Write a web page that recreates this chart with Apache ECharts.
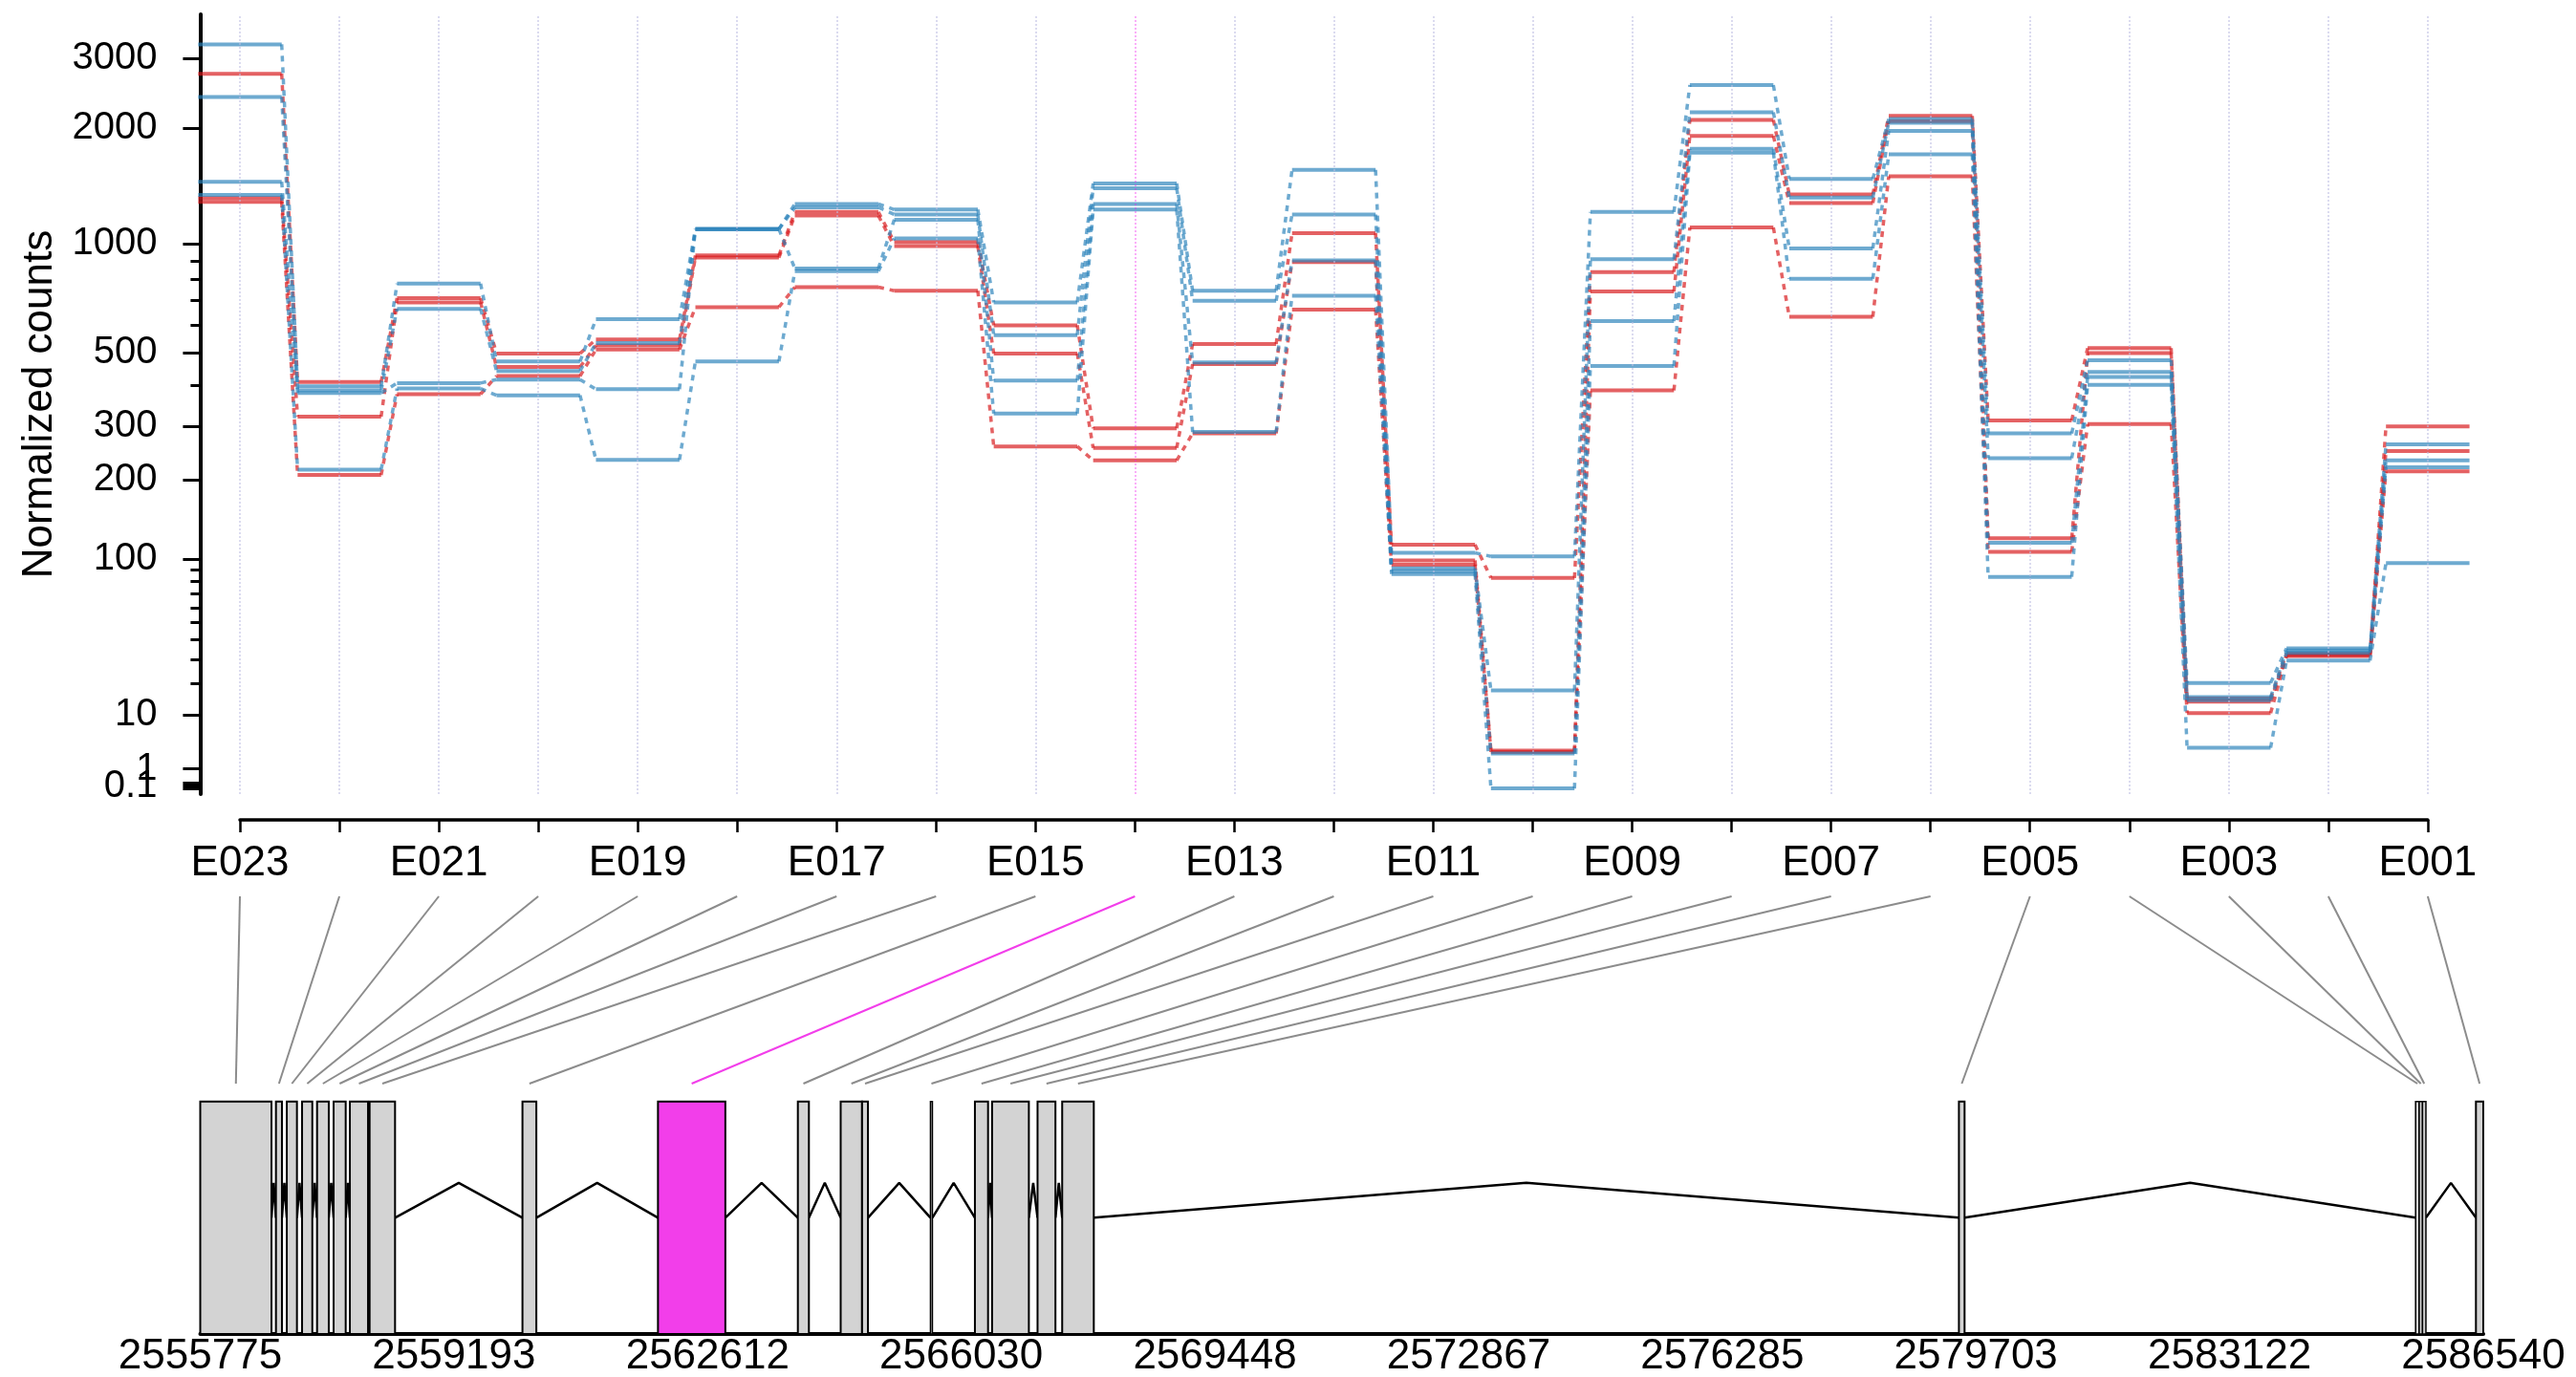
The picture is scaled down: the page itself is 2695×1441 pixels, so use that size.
<!DOCTYPE html>
<html>
<head>
<meta charset="utf-8">
<script src="https://cdn.jsdelivr.net/npm/echarts@6/dist/echarts.min.js"></script>
<style>
html,body{margin:0;padding:0;background:#ffffff;}
#chart{width:2695px;height:1441px;}
</style>
</head>
<body>
<div id="chart"></div>
<script>
// ---------------- DATA ----------------
const exonIds = ['E023','E022','E021','E020','E019','E018','E017','E016','E015','E014','E013','E012',
                 'E011','E010','E009','E008','E007','E006','E005','E004','E003','E002','E001'];
const highlightExon = 'E014';

// normalized counts per sample (condition 1 = red, condition 2 = blue), exons E023 .. E001
const red1 = [2750, 410, 712, 497, 545, 930, 1213, 1010, 598, 296, 529, 1067, 115, 83, 839, 2098, 1349, 2150, 313, 515, 14.7, 32.8, 300];
const red2 = [1320, 322, 693, 454, 524, 918, 1187, 985, 497, 256, 463, 893, 99, 3.0, 742, 1911, 1281, 2085, 122, 498, 13.8, 32, 250];
const red3 = [1290, 208, 377, 427, 510, 672, 763, 746, 259, 233, 285, 661, 95, 2.8, 387, 1104, 632, 1504, 107.5, 305, 10.5, 31.6, 214];
const blue1 = [3260, 398, 780, 471, 622, 1093, 1273, 1231, 693, 1441, 746, 1563, 106.5, 103, 1213, 2574, 1480, 2111, 285, 475, 20.1, 35.4, 263];
const blue2 = [2400, 387, 665, 442, 532, 1093, 1248, 1195, 561, 1399, 700, 1195, 91.5, 17.4, 908, 2196, 1323, 2065, 237, 439, 15.2, 34.2, 233];
const blue3 = [1455, 380, 407, 417, 390, 1093, 858, 1158, 414, 1273, 468, 902, 89, 2.6, 614, 1770, 971, 1967, 117, 424, 14.2, 33.1, 221];
const blue4 = [1345, 217, 392, 374, 234, 471, 843, 1033, 329, 1231, 288, 723, 86.5, 0.05, 457, 1730, 804, 1713, 84, 402, 3.4, 29.4, 96.5];

// genomic coordinates of exonic parts (E023 .. E001)
const exonStart = [2555775, 2556795, 2556941, 2557147, 2557349, 2557572, 2557791, 2558057, 2560117, 2561943, 2563828, 2564405,
                   2564693, 2565615, 2566214, 2566445, 2567058, 2567390, 2579474, 2585628, 2585676, 2585721, 2586441];
const exonEnd   = [2556735, 2556876, 2557078, 2557285, 2557507, 2557735, 2558036, 2558400, 2560304, 2562851, 2563977, 2564693,
                   2564773, 2565641, 2566391, 2566941, 2567299, 2567816, 2579550, 2585676, 2585721, 2585767, 2586540];

// axis ticks
const yLabelValues = [0.1, 1, 10, 100, 200, 300, 500, 1000, 2000, 3000];
const yMajorTickValues = [0.05, 0.1, 0.2, 1, 10, 100, 200, 300, 500, 1000, 2000, 3000];
const yMinorTickValues = [20, 30, 40, 50, 60, 70, 80, 90, 400, 600, 700, 800, 900];
const genomicTicks = [2555775, 2559193, 2562612, 2566030, 2569448, 2572867, 2576285, 2579703, 2583122, 2586540];
const genomicMin = 2555775, genomicMax = 2586540;

// ---------------- STYLE ----------------
const RED = 'rgba(215,25,28,0.686)';
const BLUE = 'rgba(43,131,186,0.686)';
const MAGENTA = '#F23EEA';
const FONT = 'Liberation Sans, Arial, Helvetica, sans-serif';

// variance-stabilising style transform used for the count axis
const T = q => 2 * Math.asinh(Math.sqrt(q / 200));
const HALF = 0.42;
const labelFor = v => String(yLabelValues.reduce((a, b) => Math.abs(T(b) - v) < Math.abs(T(a) - v) ? b : a));
// labels "0.1" and "1" sit almost on top of each other, so "1" goes on a second overlaid axis
const primaryLabels = yLabelValues.filter(v => v !== 1);
const secondaryLabels = yLabelValues.filter(v => v === 1);

const series = [];
function addSample(vals, color) {
  const solid = [], dashed = [];
  vals.forEach((v, k) => {
    solid.push([k - HALF, T(v)], [k + HALF, T(v)], [k + 0.5, '-']);
    if (k < vals.length - 1) {
      dashed.push([k + HALF, T(v)], [k + 1 - HALF, T(vals[k + 1])], [k + 0.5, '-']);
    }
  });
  series.push({type: 'line', xAxisIndex: 0, yAxisIndex: 0, data: solid, symbol: 'none', clip: false,
    silent: true, z: 4, lineStyle: {color: color, width: 4}});
  series.push({type: 'line', xAxisIndex: 0, yAxisIndex: 0, data: dashed, symbol: 'none', clip: false,
    silent: true, z: 4, lineStyle: {color: color, width: 3.5, type: [6, 6]}});
}

// vertical dotted guide lines at each exon
series.push({
  type: 'line', xAxisIndex: 0, yAxisIndex: 0, data: [[0, '-']], symbol: 'none', silent: true, z: 1,
  markLine: {
    silent: true, symbol: ['none', 'none'], label: {show: false}, animation: false,
    data: exonIds.map((id, k) => ({
      xAxis: k,
      lineStyle: {type: 'dotted', width: 2,
        color: id === highlightExon ? 'rgba(242,25,237,0.35)' : 'rgba(190,190,225,0.55)'}
    }))
  }
});

[red1, red2, red3].forEach(s => addSample(s, RED));
[blue1, blue2, blue3, blue4].forEach(s => addSample(s, BLUE));

// introns (gene model)
const intronData = [];
for (let i = 0; i < exonStart.length - 1; i++) {
  const a = exonEnd[i], b = exonStart[i + 1];
  if (b - a <= 0) continue;
  intronData.push([a, 0.5], [(a + b) / 2, 0.65], [b, 0.5], [(a + b) / 2, '-']);
}
series.push({type: 'line', xAxisIndex: 2, yAxisIndex: 2, data: intronData, symbol: 'none', silent: true,
  lineStyle: {color: '#000', width: 2.5}, z: 2});

// exon rectangles
series.push({
  type: 'custom', xAxisIndex: 2, yAxisIndex: 2, silent: true, z: 3,
  data: exonIds.map((id, k) => [exonStart[k], exonEnd[k], id === highlightExon ? 1 : 0]),
  encode: {x: [0, 1]},
  renderItem: function (params, api) {
    const p0 = api.coord([api.value(0), 1]);
    const p1 = api.coord([api.value(1), 0]);
    const w = p1[0] - p0[0];
    return {
      type: 'rect',
      shape: {x: p0[0], y: p0[1], width: Math.max(w, 0.5), height: p1[1] - p0[1]},
      style: {fill: api.value(2) ? MAGENTA : '#D3D3D3', stroke: '#000', lineWidth: w < 5 ? 1.5 : 2}
    };
  }
});

const yLabelStyle = {fontSize: 40, color: '#000', margin: 45, fontFamily: FONT, hideOverlap: false,
  showMinLabel: true, showMaxLabel: true, formatter: labelFor};

const option = {
  animation: false,
  backgroundColor: '#ffffff',
  textStyle: {fontFamily: FONT},
  grid: [
    {left: 209.4, right: 113.5, top: 15, height: 816, outerBoundsMode: 'none', containLabel: false},
    {left: 251, right: 155.1, top: 857, height: 1, outerBoundsMode: 'none', containLabel: false},
    {left: 209.5, right: 97, top: 1152.7, height: 243.3, outerBoundsMode: 'none', containLabel: false}
  ],
  xAxis: [
    {gridIndex: 0, type: 'value', min: -0.4, max: 22.4, show: false},
    {gridIndex: 1, type: 'value', min: 0, max: 22, position: 'bottom',
      axisLine: {show: true, onZero: false, lineStyle: {color: '#000', width: 3.5}},
      axisTick: {show: true, customValues: exonIds.map((id, k) => k), length: 13, lineStyle: {color: '#000', width: 2.5}},
      axisLabel: {show: true, customValues: exonIds.map((id, k) => k).filter(k => k % 2 === 0),
        formatter: v => exonIds[Math.round(v)], fontSize: 44, color: '#000', margin: 24, fontFamily: FONT,
        hideOverlap: false, showMinLabel: true, showMaxLabel: true},
      splitLine: {show: false}},
    {gridIndex: 2, type: 'value', min: genomicMin, max: genomicMax, position: 'bottom',
      axisLine: {show: true, onZero: false, lineStyle: {color: '#000', width: 4}},
      axisTick: {show: false},
      axisLabel: {show: true, customValues: genomicTicks, formatter: v => String(Math.round(v)),
        fontSize: 44, color: '#000', margin: 2, fontFamily: FONT, hideOverlap: false,
        showMinLabel: true, showMaxLabel: true},
      splitLine: {show: false}}
  ],
  yAxis: [
    {gridIndex: 0, type: 'value', min: 0, max: 4.376, position: 'left',
      name: 'Normalized counts', nameLocation: 'middle', nameGap: 146,
      nameTextStyle: {fontSize: 44, color: '#000', fontFamily: FONT},
      axisLine: {show: true, onZero: false, lineStyle: {color: '#000', width: 4}},
      axisTick: {show: true, customValues: yMajorTickValues.map(T), length: 18, lineStyle: {color: '#000', width: 3}},
      axisLabel: Object.assign({show: true, customValues: primaryLabels.map(T)}, yLabelStyle),
      splitLine: {show: false}},
    {gridIndex: 0, type: 'value', min: 0, max: 4.376, position: 'left', offset: 0,
      axisLine: {show: false, onZero: false},
      axisTick: {show: true, customValues: yMinorTickValues.map(T), length: 10, lineStyle: {color: '#000', width: 3}},
      axisLabel: Object.assign({show: true, customValues: secondaryLabels.map(T)}, yLabelStyle),
      splitLine: {show: false}},
    {gridIndex: 2, type: 'value', min: 0, max: 1, show: false},
    {gridIndex: 1, type: 'value', min: 0, max: 1, show: false}
  ],
  series: series
};

const chart = echarts.init(document.getElementById('chart'), null, {renderer: 'canvas', width: 2695, height: 1441});
chart.setOption(option);

// connector lines from exon index ticks to genomic positions (via the library's scales)
const CONNECT_TOP = 938, CONNECT_BOTTOM = 1134;
const connectors = exonIds.map((id, k) => {
  const xTop = chart.convertToPixel({xAxisIndex: 1}, k);
  const xBottom = chart.convertToPixel({xAxisIndex: 2}, (exonStart[k] + exonEnd[k]) / 2);
  return {
    type: 'line', silent: true, z: 5,
    shape: {x1: xTop, y1: CONNECT_TOP, x2: xBottom, y2: CONNECT_BOTTOM},
    style: {stroke: id === highlightExon ? MAGENTA : '#8c8c8c', lineWidth: 2}
  };
});
chart.setOption({graphic: {elements: connectors}});
</script>
</body>
</html>
